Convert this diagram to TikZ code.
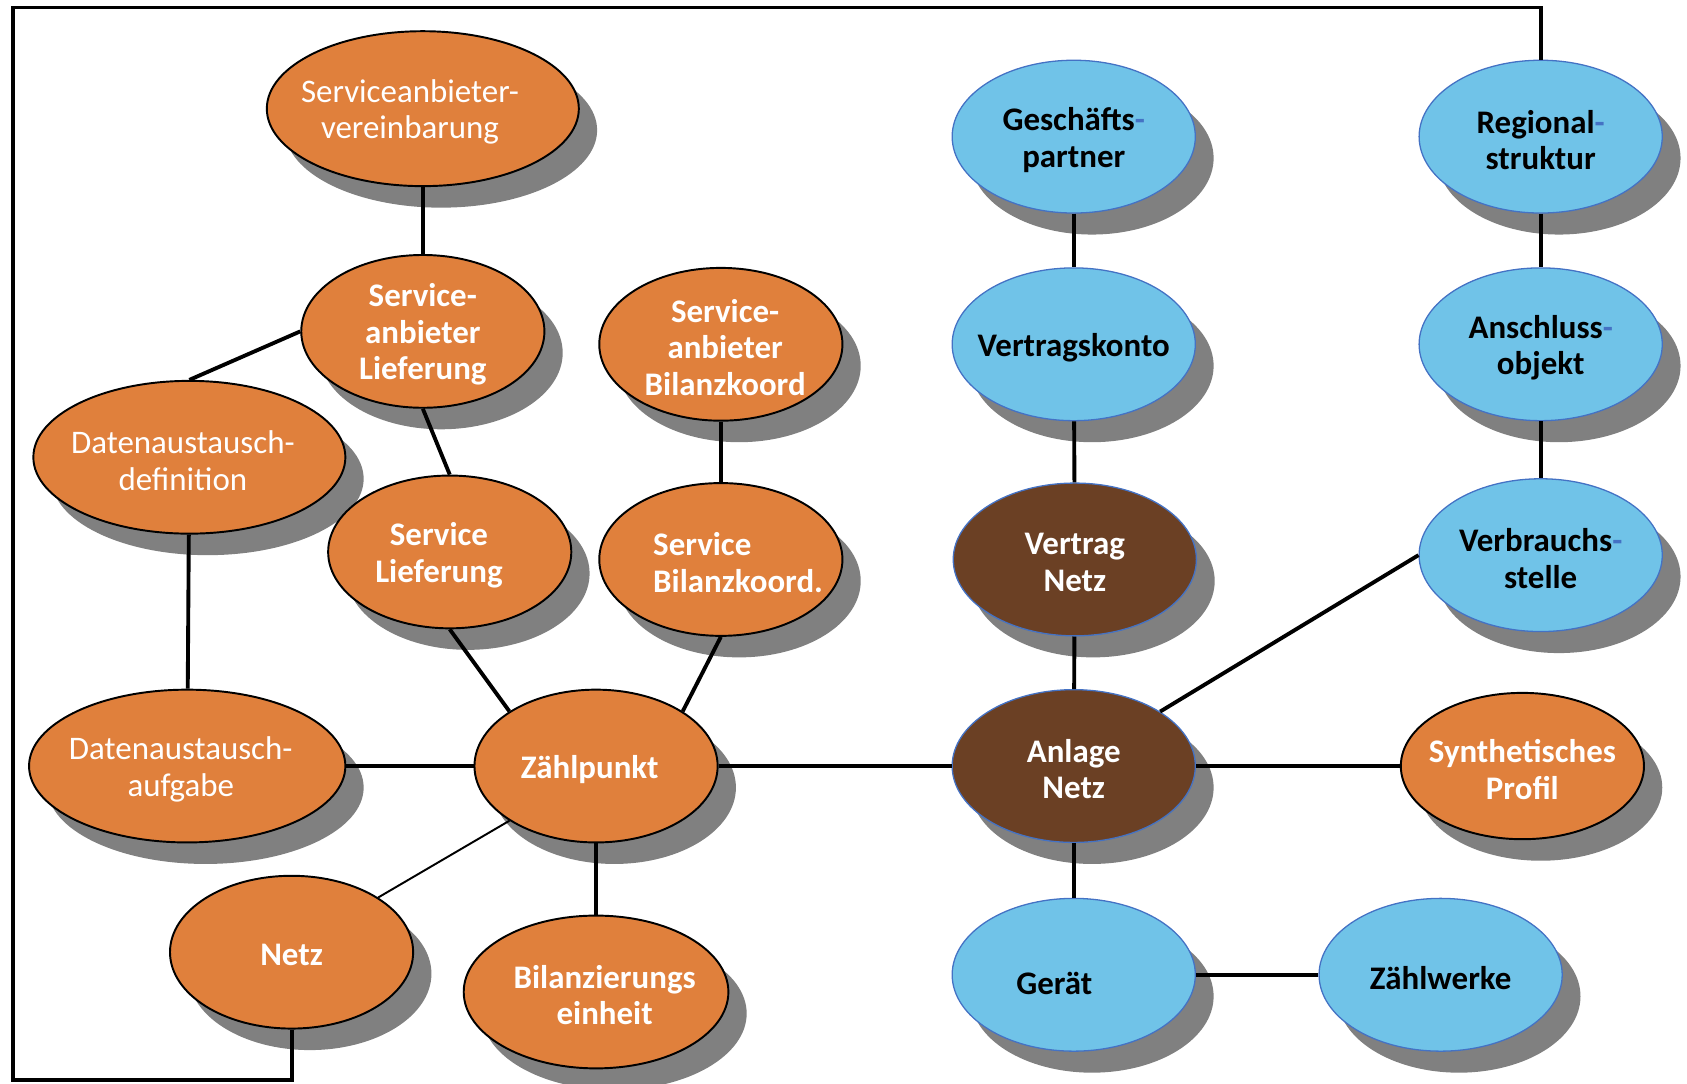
\documentclass[tikz,border=0pt]{standalone}
\usepackage{fontspec}
\setmainfont{Carlito}
\usetikzlibrary{shapes.geometric,shadows}
\definecolor{orangefill}{RGB}{224,128,60}
\definecolor{bluefill}{RGB}{112,195,232}
\definecolor{brownfill}{RGB}{107,64,36}
\definecolor{blueline}{RGB}{68,114,196}
\definecolor{shadowgray}{RGB}{128,128,128}
\tikzset{
  ell/.style={ellipse, inner sep=0pt, minimum width=113pt, minimum height=71pt,
    drop shadow={shadow xshift=8.5pt, shadow yshift=-10pt, fill=shadowgray, opacity=1}},
  orangenode/.style={ell, fill=orangefill, draw=black, line width=0.9pt},
  bluenode/.style={ell, fill=bluefill, draw=blueline, line width=0.6pt},
  brownnode/.style={ell, fill=brownfill, draw=blueline, line width=0.6pt},
  txt/.style={align=center, inner sep=0pt, text=white, yshift=-1.5pt,
    font=\fontsize{15.3}{17}\selectfont\bfseries},
  txtreg/.style={txt, font=\fontsize{15.3}{17}\selectfont},
  txtdark/.style={txt, text=black},
  edge/.style={line width=1.8pt},
  thinedge/.style={line width=0.9pt}
}
\newcommand{\bh}{\textcolor{blueline}{-}}
\begin{document}
\begin{tikzpicture}[x=0.5pt, y=-0.5pt]
  \useasboundingbox (0,0) rectangle (1568,1007);
  \node[orangenode, minimum width=145pt, minimum height=72pt,
    label={[txtreg, xshift=-6pt]center:Serviceanbieter-\\vereinbarung}] (sav) at (393,101) {};
  \node[orangenode, label={[txt]center:Service-\\anbieter\\Lieferung}] (sal) at (393,308) {};
  \node[orangenode, label={[txt, xshift=2pt]center:Service-\\anbieter\\Bilanzkoord}] (sab) at (670,320) {};
  \node[orangenode, minimum width=145pt,
    label={[txtreg, xshift=-3pt]center:Datenaustausch-\\definition}] (dad) at (176,425) {};
  \node[orangenode, label={[txt, xshift=-5pt]center:Service\\Lieferung}] (sl) at (418,513) {};
  \node[orangenode, label={[txt, align=left, xshift=8pt]center:Service\\ Bilanzkoord.}] (sbk) at (670,520) {};
  \node[orangenode, minimum width=147pt,
    label={[txtreg, xshift=-3pt]center:Datenaustausch-\\aufgabe}] (daa) at (174,712) {};
  \node[orangenode, label={[txt, xshift=-3pt]center:Zählpunkt}] (zp) at (554,712) {};
  \node[orangenode, label={[txt]center:Netz}] (netz) at (271,885) {};
  \node[orangenode, minimum width=123pt,
    label={[txt, xshift=4pt]center:Bilanzierungs\\einheit}] (be) at (554,922) {};
  \node[bluenode, label={[txtdark]center:Geschäfts\bh\\partner}] (gp) at (998,127) {};
  \node[bluenode, label={[txtdark]center:Vertragskonto}] (vk) at (998,320) {};
  \node[brownnode, label={[txt]center:Vertrag\\Netz}] (vn) at (999,520) {};
  \node[brownnode, label={[txt]center:Anlage\\Netz}] (an) at (998,712) {};
  \node[bluenode, label={[txtdark, xshift=-9pt, yshift=-2.5pt]center:Gerät}] (ger) at (998,906) {};
  \node[bluenode, label={[txtdark]center:Zählwerke}] (zw) at (1339,906) {};
  \node[bluenode, label={[txtdark]center:Regional\bh\\struktur}] (rs) at (1432,127) {};
  \node[bluenode, label={[txtdark]center:Anschluss\bh\\objekt}] (ao) at (1432,320) {};
  \node[bluenode, label={[txtdark]center:Verbrauchs\bh\\stelle}] (vs) at (1432,516) {};
  \node[orangenode, minimum height=68pt,
    label={[txt]center:Synthetisches\\Profil}] (sp) at (1415,712) {};
  \coordinate (c1) at (12,1004);
  \coordinate (c2) at (12,7);
  \begin{scope}[edge]
    \draw (sav) to (sal);
    \draw (sal.west) to (dad.north);
    \draw (sal.south) to (sl.north);
    \draw (sab) to (sbk);
    \draw (dad) to (daa);
    \draw (daa) to (zp);
    \draw (sl.south) to (zp.north west);
    \draw (sbk.south) to (zp.north east);
    \draw (zp) to (be);
    \draw (zp) to (an);
    \draw (gp) to (vk);
    \draw (vk) to (vn);
    \draw (vn) to (an);
    \draw (an.north east) to (vs.west);
    \draw (an) to (sp);
    \draw (an) to (ger);
    \draw (ger) to (zw);
    \draw (rs) to (ao);
    \draw (ao) to (vs);
    \draw (netz.south) |- (c1) -- (c2) -| (rs.north);
  \end{scope}
  \draw[thinedge] (zp.south west) to (netz.north east);
\end{tikzpicture}
\end{document}
